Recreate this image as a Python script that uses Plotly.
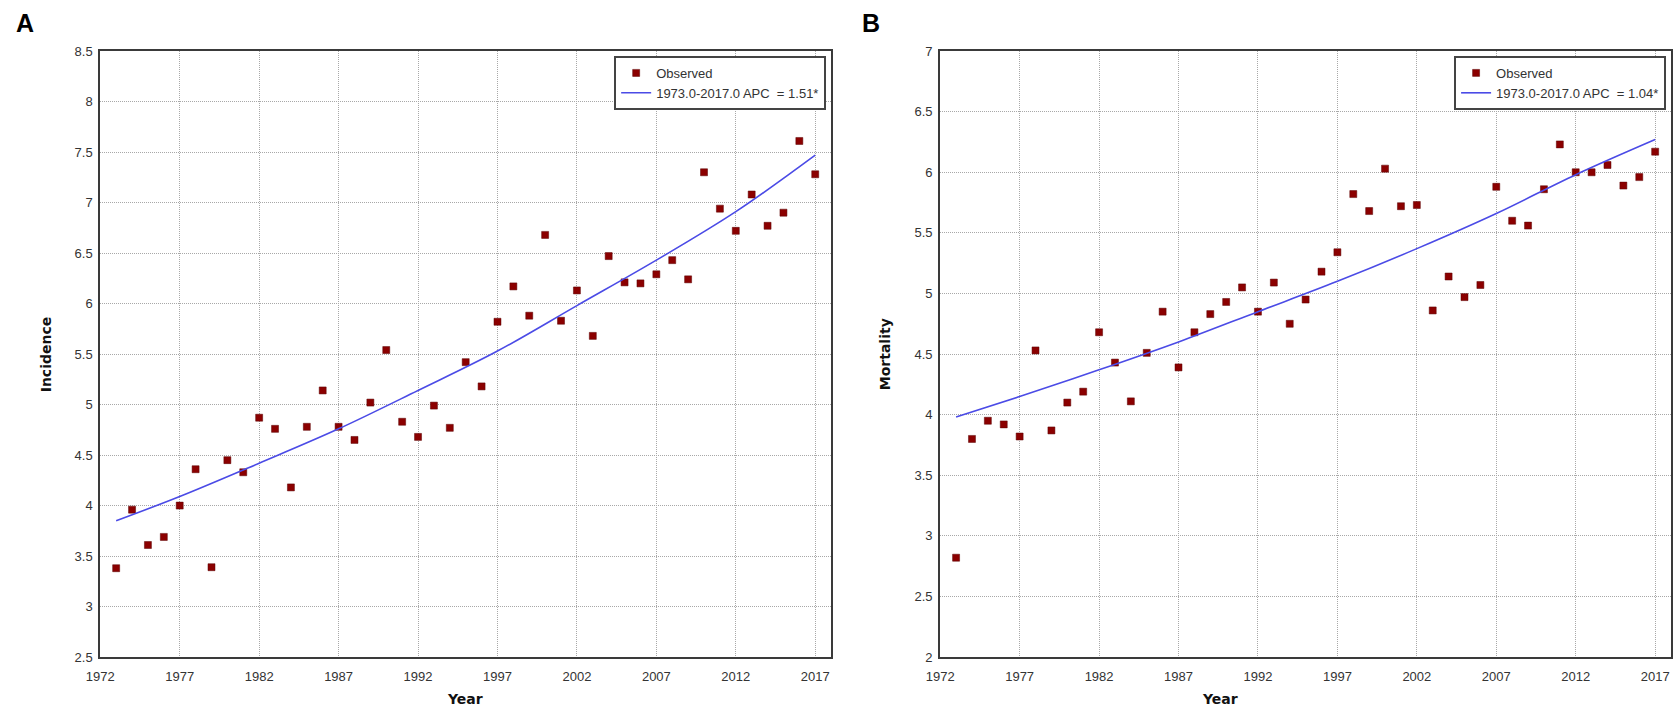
import plotly.graph_objects as go

years = list(range(1973, 2018))
incidence = [3.38, 3.96, 3.61, 3.69, 4.00, 4.36, 3.39, 4.45, 4.33, 4.87,
             4.76, 4.18, 4.78, 5.14, 4.78, 4.65, 5.02, 5.54, 4.83, 4.68,
             4.99, 4.77, 5.42, 5.18, 5.82, 6.17, 5.88, 6.68, 5.83, 6.13,
             5.68, 6.47, 6.21, 6.20, 6.29, 6.43, 6.24, 7.30, 6.94, 6.72,
             7.08, 6.77, 6.90, 7.61, 7.28]
mortality = [2.82, 3.80, 3.95, 3.92, 3.82, 4.53, 3.87, 4.10, 4.19, 4.68,
             4.43, 4.11, 4.51, 4.85, 4.39, 4.68, 4.83, 4.93, 5.05, 4.85,
             5.09, 4.75, 4.95, 5.18, 5.34, 5.82, 5.68, 6.03, 5.72, 5.73,
             4.86, 5.14, 4.97, 5.07, 5.88, 5.60, 5.56, 5.86, 6.23, 6.00,
             6.00, 6.06, 5.89, 5.96, 6.17]
fit_years = [1973, 1977, 1982, 1987, 1992, 1997, 2002, 2007, 2012, 2017]
incidence_fit = [3.85, 4.09, 4.42, 4.76, 5.14, 5.53, 5.98, 6.43, 6.91, 7.47]
mortality_fit = [3.98, 4.15, 4.37, 4.60, 4.85, 5.10, 5.37, 5.66, 5.98, 6.27]
x_ticks = [1972, 1977, 1982, 1987, 1992, 1997, 2002, 2007, 2012, 2017]
label_inc = "1973.0-2017.0 APC\u00a0\u00a0= 1.51*"
label_mor = "1973.0-2017.0 APC\u00a0\u00a0= 1.04*"

W, H = 1676, 717
def px_x(p): return p / W
def px_y(p): return 1 - p / H

MARK = "#8b0000"
LINE = "#4b4be6"
TICKFONT = dict(family="Liberation Sans, Arial, sans-serif", size=13, color="#333")
TITLEFONT = dict(family="DejaVu Sans, Verdana, sans-serif", size=14, color="#111")

fig = go.Figure()
fig.add_trace(go.Scatter(x=years, y=incidence, mode="markers", name="Observed",
                         marker=dict(symbol="square", size=7, color=MARK,
                                     line=dict(color="#5a0000", width=0.5)),
                         xaxis="x", yaxis="y", legend="legend"))
fig.add_trace(go.Scatter(x=fit_years, y=incidence_fit, mode="lines", name=label_inc,
                         line=dict(color=LINE, width=1.6, shape="spline"),
                         xaxis="x", yaxis="y", legend="legend"))
fig.add_trace(go.Scatter(x=years, y=mortality, mode="markers", name="Observed",
                         marker=dict(symbol="square", size=7, color=MARK,
                                     line=dict(color="#5a0000", width=0.5)),
                         xaxis="x2", yaxis="y2", legend="legend2"))
fig.add_trace(go.Scatter(x=fit_years, y=mortality_fit, mode="lines", name=label_mor,
                         line=dict(color=LINE, width=1.6, shape="spline"),
                         xaxis="x2", yaxis="y2", legend="legend2"))

GRID = dict(showgrid=True, gridcolor="#a8a8a8", griddash="1px,1px", gridwidth=1)
common_x = dict(range=[1972, 2018], tickmode="array", tickvals=x_ticks,
                showline=True, linecolor="#3a3a3a", linewidth=2, mirror=True,
                ticks="", tickfont=TICKFONT, zeroline=False, ticklabelstandoff=6, **GRID)
common_y = dict(dtick=0.5, showline=True, linecolor="#3a3a3a", linewidth=2, mirror=True,
                ticks="", tickfont=TICKFONT, zeroline=False, ticklabelstandoff=3, **GRID)

LEGFONT = dict(family="Liberation Sans, Arial, sans-serif", size=13, color="#333")
ydom = [px_y(664), px_y(45)]
fig.update_layout(
    width=W, height=H, margin=dict(l=0, r=0, t=0, b=0),
    paper_bgcolor="white", plot_bgcolor="white",
    xaxis=dict(domain=[px_x(87), px_x(824)], anchor="y", **common_x),
    yaxis=dict(domain=ydom, anchor="x", range=[2.5, 8.5], tick0=2.5, **common_y),
    xaxis2=dict(domain=[px_x(934), px_x(1671)], anchor="y2", **common_x),
    yaxis2=dict(domain=ydom, anchor="x2", range=[2, 7], tick0=2, **common_y),
    legend=dict(x=px_x(819), y=px_y(50), xanchor="right", yanchor="top",
                bgcolor="white", bordercolor="#444", borderwidth=2,
                font=LEGFONT, tracegroupgap=0, itemwidth=30),
    legend2=dict(x=px_x(1666), y=px_y(50), xanchor="right", yanchor="top",
                 bgcolor="white", bordercolor="#444", borderwidth=2,
                 font=LEGFONT, tracegroupgap=0, itemwidth=30),
    showlegend=True,
    annotations=[
        dict(text="<b>A</b>", x=px_x(0), y=px_y(16), xref="paper", yref="paper",
             xanchor="left", yanchor="middle", showarrow=False,
             font=dict(family="Liberation Sans, Arial, sans-serif", size=25, color="black")),
        dict(text="<b>B</b>", x=px_x(853), y=px_y(16), xref="paper", yref="paper",
             xanchor="left", yanchor="middle", showarrow=False,
             font=dict(family="Liberation Sans, Arial, sans-serif", size=25, color="black")),
        dict(text="<b>Year</b>", x=px_x(455), y=px_y(707), xref="paper", yref="paper",
             xanchor="center", yanchor="middle", showarrow=False, font=TITLEFONT),
        dict(text="<b>Year</b>", x=px_x(1216), y=px_y(707), xref="paper", yref="paper",
             xanchor="center", yanchor="middle", showarrow=False, font=TITLEFONT),
        dict(text="<b>Incidence</b>", x=px_x(32), y=px_y(355), xref="paper", yref="paper",
             xanchor="center", yanchor="middle", showarrow=False, textangle=-90, font=TITLEFONT),
        dict(text="<b>Mortality</b>", x=px_x(878), y=px_y(355), xref="paper", yref="paper",
             xanchor="center", yanchor="middle", showarrow=False, textangle=-90, font=TITLEFONT),
    ],
)

fig.write_html("out.html", config={"displayModeBar": False},
               post_script="document.body.style.margin='0';document.body.style.overflow='hidden';")
